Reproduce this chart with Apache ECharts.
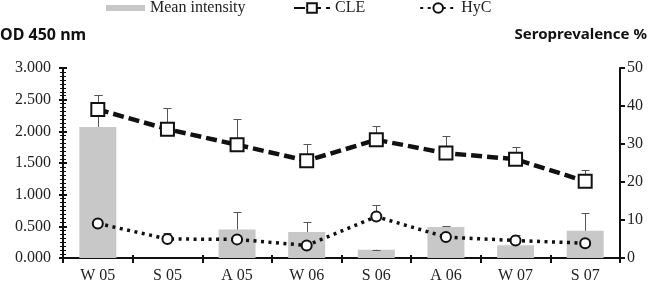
<!DOCTYPE html>
<html>
<head>
<meta charset="utf-8">
<script src="https://cdn.jsdelivr.net/npm/echarts@6/dist/echarts.min.js"></script>
<style>
    html, body { margin: 0; padding: 0; background: #fff; }
    #chart { width: 649px; height: 284px; }
</style>
</head>
<body>
<div id="chart"></div>
<script>
// Seasons
var categories = ['W 05', 'S 05', 'A 05', 'W 06', 'S 06', 'A 06', 'W 07', 'S 07'];

// Mean intensity (OD 450 nm, left axis) and top of its error bars
var meanIntensity = [2.07, 0, 0.45, 0.41, 0.13, 0.49, 0.20, 0.43];
var meanIntensityTop = [2.58, null, 0.72, 0.57, 0.13, 0.50, null, 0.71];

// Seroprevalence % (right axis) and top of error bars
var cle = [39.1, 33.9, 29.8, 25.6, 31.1, 27.6, 26.0, 20.2];
var cleTop = [43.0, 39.6, 36.5, 29.9, 34.7, 32.0, 29.2, 23.2];
var hyc = [9.1, 5.0, 4.9, 3.3, 10.9, 5.5, 4.6, 3.9];
var hycTop = [null, 6.6, null, null, 13.9, null, 6.1, null];

// Axis ticks
var leftTicks = { min: 0, max: 3, interval: 0.5, minorInterval: 0.0625 };
var rightTicks = { min: 0, max: 50, interval: 10 };

var serif = '"Liberation Serif", "Times New Roman", serif';

function errorData(values, tops) {
    var out = [];
    for (var i = 0; i < values.length; i++) {
        if (tops[i] !== null) {
            out.push([i, values[i], tops[i]]);
        }
    }
    return out;
}

function renderError(params, api) {
    var base = api.coord([api.value(0), api.value(1)]);
    var top = api.coord([api.value(0), api.value(2)]);
    var x = Math.round(base[0]) + 0.5;
    var yTop = Math.round(top[1]) + 0.5;
    var style = { stroke: '#555', lineWidth: 1 };
    return {
        type: 'group',
        children: [
            { type: 'line', shape: { x1: x, y1: base[1], x2: x, y2: yTop }, style: style },
            { type: 'line', shape: { x1: x - 4, y1: yTop, x2: x + 4, y2: yTop }, style: style }
        ]
    };
}

// Tick-only axis (crossing ticks are drawn by shifting it a little into the plot)
function tickAxis(base, offset, length, width) {
    return Object.assign({
        offset: offset,
        axisLine: { show: false },
        axisTick: { show: true, length: length, lineStyle: { color: '#111', width: width } },
        axisLabel: { show: false },
        splitLine: { show: false }
    }, base);
}

var chart = echarts.init(document.getElementById('chart'));

chart.setOption({
    animation: false,
    textStyle: { fontFamily: serif },

    grid: { left: 63, right: 29, top: 68, bottom: 24 },

    legend: [{
        data: ['Mean intensity'],
        left: 106,
        top: 0,
        padding: 0,
        icon: 'rect',
        itemWidth: 39,
        itemHeight: 6,
        itemGap: 5,
        textStyle: { fontFamily: serif, fontSize: 16, color: '#222' }
    }, {
        data: ['CLE', 'HyC'],
        left: 293,
        top: 0,
        padding: 0,
        itemWidth: 36,
        itemHeight: 12,
        itemGap: 54,
        textStyle: { fontFamily: serif, fontSize: 16, color: '#222' }
    }],

    graphic: [{
        type: 'text',
        left: 0,
        top: 27,
        style: { text: 'OD 450 nm', font: 'bold 16px "Noto Sans", sans-serif', fill: '#111' }
    }, {
        type: 'text',
        right: 2,
        top: 27,
        style: { text: 'Seroprevalence %', font: 'bold 15px "Noto Sans", sans-serif', fill: '#111' }
    }],

    xAxis: [{
        type: 'category',
        data: categories,
        axisLine: { lineStyle: { color: '#111', width: 2 } },
        axisTick: { show: false },
        axisLabel: { color: '#222', fontSize: 16, fontFamily: serif, margin: 10 }
    }, tickAxis({ type: 'category', data: categories, position: 'bottom' }, -3, 8, 2)],

    yAxis: [{
        type: 'value',
        min: leftTicks.min,
        max: leftTicks.max,
        interval: leftTicks.interval,
        axisLine: { show: true, lineStyle: { color: '#111', width: 2 } },
        axisTick: { show: false },
        axisLabel: {
            color: '#222', fontSize: 16, fontFamily: serif, margin: 12,
            formatter: function (v) { return v.toFixed(3); }
        },
        splitLine: { show: false }
    }, {
        type: 'value',
        position: 'right',
        min: rightTicks.min,
        max: rightTicks.max,
        interval: rightTicks.interval,
        axisLine: { show: true, lineStyle: { color: '#111', width: 2 } },
        axisTick: { show: true, length: 5, lineStyle: { color: '#111', width: 2 } },
        axisLabel: { color: '#222', fontSize: 16, fontFamily: serif, margin: 7 },
        splitLine: { show: false }
    },
    tickAxis({ type: 'value', position: 'left', min: leftTicks.min, max: leftTicks.max, interval: leftTicks.interval }, -4, 8, 2),
    tickAxis({ type: 'value', position: 'left', min: leftTicks.min, max: leftTicks.max, interval: leftTicks.minorInterval }, -3, 6, 1)
    ],

    series: [{
        name: 'Mean intensity',
        type: 'bar',
        yAxisIndex: 0,
        barWidth: 37,
        itemStyle: { color: '#c8c8c8' },
        data: meanIntensity,
        z: 1
    }, {
        type: 'custom',
        yAxisIndex: 0,
        renderItem: renderError,
        data: errorData(meanIntensity, meanIntensityTop),
        z: 2
    }, {
        type: 'custom',
        yAxisIndex: 1,
        renderItem: renderError,
        data: errorData(cle, cleTop),
        z: 2
    }, {
        type: 'custom',
        yAxisIndex: 1,
        renderItem: renderError,
        data: errorData(hyc, hycTop),
        z: 2
    }, {
        name: 'CLE',
        type: 'line',
        yAxisIndex: 1,
        symbol: 'rect',
        symbolSize: 13,
        itemStyle: { color: '#fff', borderColor: '#111', borderWidth: 2 },
        lineStyle: { color: '#111', width: 4.5, type: [11, 5] },
        data: cle,
        z: 3
    }, {
        name: 'HyC',
        type: 'line',
        yAxisIndex: 1,
        symbol: 'circle',
        symbolSize: 10,
        itemStyle: { color: '#fff', borderColor: '#111', borderWidth: 2 },
        lineStyle: { color: '#111', width: 3.5, type: [3, 4.5] },
        data: hyc,
        z: 3
    }]
});
</script>
</body>
</html>
